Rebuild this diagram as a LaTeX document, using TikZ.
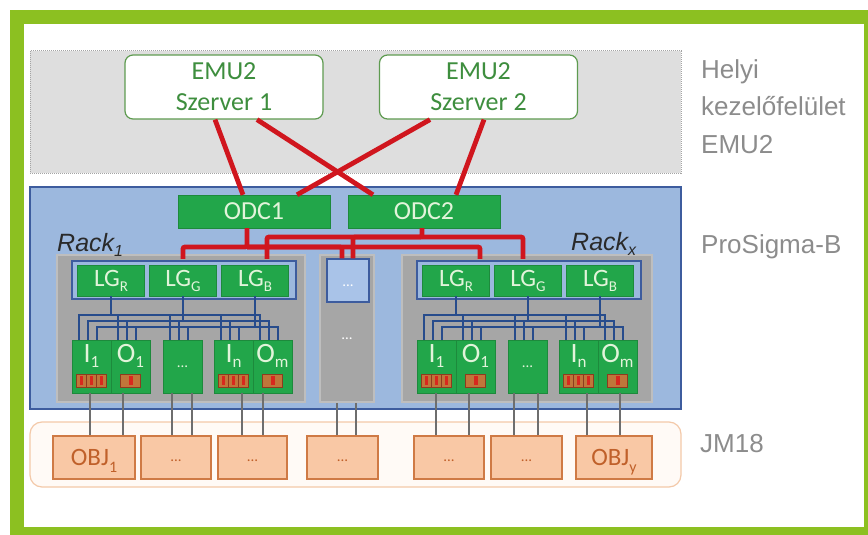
\documentclass[tikz,border=0pt]{standalone}
\usepackage{fontspec}
\setmainfont{Carlito}
\newfontfamily\arialf{Liberation Sans}
\usetikzlibrary{calc}

\definecolor{frameg}{HTML}{8CC021}
\definecolor{zonefill}{HTML}{DEDEDE}
\definecolor{zoneedge}{HTML}{A4A4A4}
\definecolor{srvedge}{HTML}{5E9B50}
\definecolor{srvtext}{HTML}{3E8E3E}
\definecolor{panelfill}{HTML}{9CB8DE}
\definecolor{paneledge}{HTML}{3D5C9E}
\definecolor{boxgreen}{HTML}{22A64A}
\definecolor{modedge}{HTML}{1D8A3C}
\definecolor{boxtext}{HTML}{E2F4DA}
\definecolor{redline}{HTML}{D0161E}
\definecolor{rackfill}{HTML}{A6A6A6}
\definecolor{rackedge}{HTML}{BEBEBE}
\definecolor{midfill}{HTML}{A9C3E8}
\definecolor{bluewire}{HTML}{274C8C}
\definecolor{graywire}{HTML}{6E6E6E}
\definecolor{objfill}{HTML}{F9C8A5}
\definecolor{objedge}{HTML}{CF7A45}
\definecolor{objtext}{HTML}{C0602A}
\definecolor{jmedge}{HTML}{F3C9A9}
\definecolor{jmfill}{HTML}{FFFAF6}
\definecolor{labgray}{HTML}{8C8C8C}
\definecolor{rackname}{HTML}{2A2A2A}
\definecolor{cellfill}{HTML}{C0763A}
\definecolor{celledge}{HTML}{8E3B1F}
\definecolor{cellred}{HTML}{D8281E}

% lowered small index
\newcommand\sbs[3][-5pt]{\raisebox{#1}{\fontsize{#2}{#2}\selectfont #3}}

\tikzset{
  srvbox/.style={draw=srvedge, fill=white, rounded corners=8pt, line width=1.2pt,
    minimum width=198pt, minimum height=64pt, align=center, text=srvtext,
    font=\fontsize{26}{31}\selectfont},
  odcbox/.style={draw=modedge, fill=boxgreen, minimum width=152pt, minimum height=33pt,
    inner sep=0pt, text=boxtext, font=\fontsize{26}{26}\selectfont},
  rackbox/.style={fill=rackfill, draw=rackedge, line width=1.5pt, inner sep=0pt,
    minimum height=147pt},
  lgframe/.style={fill=panelfill, draw=paneledge, line width=1.5pt, inner sep=0pt,
    minimum width=224pt, minimum height=38pt},
  lgbox/.style={fill=boxgreen, draw=modedge, minimum width=67pt, minimum height=31pt,
    inner sep=1pt, text=boxtext, font=\fontsize{25}{25}\selectfont},
  modbase/.style={draw=modedge, fill=boxgreen, minimum width=39pt, minimum height=53pt,
    inner sep=1pt, text=boxtext},
  modbox/.style={modbase, font=\fontsize{28}{28}\selectfont, text height=19pt, text depth=28pt},
  dotmod/.style={modbase, font=\fontsize{15}{15}\selectfont},
  objbox/.style={draw=objedge, fill=objfill, line width=1.2pt, minimum height=43pt,
    inner sep=0pt, text=objtext, font=\fontsize{25}{25}\selectfont,
    text height=15pt, text depth=0pt},
  objdots/.style={objbox, font=\fontsize{15}{15}\selectfont, text height=8pt},
  redl/.style={draw=redline, line width=4.8pt, rounded corners=2pt},
  bw/.style={draw=bluewire, line width=2.3pt},
  gl/.style={draw=graywire, line width=2.6pt},
  sidelab/.style={anchor=base west, text=labgray, inner sep=0pt,
    font=\arialf\fontsize{26}{26}\selectfont},
  racklab/.style={anchor=base west, text=rackname, inner sep=0pt,
    font=\arialf\itshape\fontsize{25}{25}\selectfont},
  icell/.pic={
    \filldraw[fill=cellfill, draw=celledge, line width=0.8pt] (-15,-6) rectangle (15,-19);
    \draw[celledge, line width=0.8pt] (-5,-6) -- (-5,-19) (5,-6) -- (5,-19);
    \fill[cellred] (-11.5,-8) rectangle (-8.5,-17);
    \fill[cellred] (-1.5,-8) rectangle (1.5,-17);
    \fill[cellred] (8.5,-8) rectangle (11.5,-17);
  },
  ocell/.pic={
    \filldraw[fill=cellfill, draw=celledge, line width=0.8pt] (-10,-6) rectangle (10,-19);
    \fill[cellred] (-2,-8) rectangle (2,-17);
  }
}

\begin{document}
\begin{tikzpicture}[x=1pt,y=-1pt]
\useasboundingbox (0,0) rectangle (868,535);

% page frame
\fill[white] (0,0) rectangle (868,535);
\fill[frameg] (10,10) rectangle (868,535);
\fill[white] (24,24) rectangle (864,527);

% layer zones
\node[draw=zoneedge, densely dotted, line width=1pt, fill=zonefill, inner sep=0pt,
  minimum width=651pt, minimum height=122pt] (emuzone) at (355.5,112) {};
\node[draw=paneledge, fill=panelfill, line width=1.5pt, inner sep=0pt,
  minimum width=651pt, minimum height=222pt] (panel) at (355.5,298) {};
\node[draw=jmedge, fill=jmfill, line width=1.2pt, rounded corners=12pt, inner sep=0pt,
  minimum width=651pt, minimum height=65pt] (jmzone) at (355.5,454.5) {};

% servers
\node[srvbox] (srv1) at (224,87) {EMU2\\Szerver 1};
\node[srvbox] (srv2) at (478.5,87) {EMU2\\Szerver 2};

% ODC units
\node[odcbox] (odc1) at (254,211.5) {ODC1};
\node[odcbox] (odc2) at (424,211.5) {ODC2};

% server to ODC links
\draw[redl] ([xshift=-9pt]srv1.south) -- ([xshift=-11pt]odc1.north);
\draw[redl] ([xshift=33pt]srv1.south) -- ([xshift=-51pt]odc2.north);
\draw[redl] ([xshift=-48.5pt]srv2.south) -- ([xshift=43pt]odc1.north);
\draw[redl] ([xshift=5.5pt]srv2.south) -- ([xshift=32pt]odc2.north);

% racks
\node[rackbox, minimum width=248pt] (rack1) at (181,328.5) {};
\node[rackbox, minimum width=54pt, text=white, font=\fontsize{15}{15}\selectfont,
  text height=22pt, text depth=0pt] (rackm) at (347,328.5) {...};
\node[rackbox, minimum width=250pt] (rackx) at (527,328.5) {};

\node[lgframe] (lgf1) at (184,280) {};
\node[lgframe] (lgfx) at (529,280) {};

\node[lgbox] (lr1) at (111,280.5) {LG\sbs{15}{R}};
\node[lgbox] (lg1) at (183,280.5) {LG\sbs{15}{G}};
\node[lgbox] (lb1) at (255,280.5) {LG\sbs{15}{B}};
\node[lgbox] (lrx) at (456,280.5) {LG\sbs{15}{R}};
\node[lgbox] (lgx) at (528,280.5) {LG\sbs{15}{G}};
\node[lgbox] (lbx) at (600,280.5) {LG\sbs{15}{B}};

\node[fill=midfill, draw=paneledge, line width=1.5pt, minimum width=42pt, minimum height=43pt,
  inner sep=0pt, text=white, font=\fontsize{15}{15}\selectfont, text height=12pt, text depth=0pt]
  (midsmall) at (348,280.5) {...};

% ODC distribution buses
\coordinate (busA) at (0,247);
\coordinate (busB) at (0,237);
\draw[redl] ([xshift=-7pt]odc1.south) -- ([xshift=-7pt]odc1.south |- busA) -| ([yshift=6pt]lg1.north);
\draw[redl] ([xshift=-7pt]odc1.south |- busA) -| ([xshift=-6pt]midsmall.north);
\draw[redl] ([xshift=-7pt]odc1.south |- busA) -| ([xshift=24pt,yshift=6pt]lrx.north);
\draw[redl] ([xshift=-2pt]odc2.south) -- ([xshift=-2pt]odc2.south |- busB) -| ([xshift=12pt,yshift=6pt]lb1.north);
\draw[redl] ([xshift=-2pt]odc2.south |- busB) -| ([xshift=5pt]midsmall.north);
\draw[redl] ([xshift=-2pt]odc2.south |- busB) -| ([xshift=-5pt,yshift=6pt]lgx.north);

% I/O modules
\node[modbox] (ma1) at (91.5,366.5) {I\sbs{17}{1}};
\node[modbox] (mb1) at (130.5,366.5) {O\sbs{17}{1}};
\node[dotmod] (mc1) at (182.5,366.5) {...};
\node[modbox] (md1) at (233.5,366.5) {I\sbs{17}{n}};
\node[modbox] (me1) at (272.5,366.5) {O\sbs{17}{m}};
\node[modbox] (max) at (436.5,366.5) {I\sbs{17}{1}};
\node[modbox] (mbx) at (475.5,366.5) {O\sbs{17}{1}};
\node[dotmod] (mcx) at (527.5,366.5) {...};
\node[modbox] (mdx) at (578.5,366.5) {I\sbs{17}{n}};
\node[modbox] (mex) at (617.5,366.5) {O\sbs{17}{m}};

% LG to module wiring
\foreach \r in {1,x}{
  \foreach \m in {a,b,c,d,e}{
    \draw[bw] (lr\r.south) |- ([xshift=7pt,yshift=25pt]m\m\r.north west) -- ([xshift=7pt]m\m\r.north west);
    \draw[bw] (lg\r.south) |- ([xshift=16pt,yshift=19pt]m\m\r.north west) -- ([xshift=16pt]m\m\r.north west);
    \draw[bw] (lb\r.south) |- ([xshift=25pt,yshift=13pt]m\m\r.north west) -- ([xshift=25pt]m\m\r.north west);
  }
}

% terminal blocks
\foreach \m in {ma1,md1,max,mdx} { \pic at (\m.south) {icell}; }
\foreach \m in {mb1,me1,mbx,mex} { \pic at (\m.south) {ocell}; }

% field objects
\node[objbox, minimum width=82pt] (o1) at (94,457.5) {OBJ\sbs[-7pt]{16}{1}};
\node[objdots, minimum width=70pt] (o2) at (176,457.5) {...};
\node[objdots, minimum width=69pt] (o3) at (252.5,457.5) {...};
\node[objdots, minimum width=71pt] (o4) at (342.5,457.5) {...};
\node[objdots, minimum width=70pt] (o5) at (449,457.5) {...};
\node[objdots, minimum width=71pt] (o6) at (526.5,457.5) {...};
\node[objbox, minimum width=76pt] (o7) at (614,457.5) {OBJ\sbs[-7pt]{16}{y}};

% module to object cabling
\foreach \m/\s/\o in {ma1/-1.5/o1, mb1/-7.5/o1, mc1/-10.5/o2, mc1/9.5/o2, md1/8.5/o3, me1/-9.5/o3,
    rackm/-10/o4, rackm/9/o4, max/-0.5/o5, mbx/-6.5/o5, mcx/-13.5/o6, mcx/10.5/o6, mdx/8.5/o7, mex/2.5/o7}{
  \draw[gl] ([xshift=\s pt]\m.south) -- ([xshift=\s pt]\m.south |- \o.north);
}

% rack names
\node[racklab] (rn1) at (57,251) {Rack\sbs{16}{1}};
\node[racklab] (rnx) at (571,250) {Rack\sbs{16}{x}};

% layer names
\node[sidelab] (hl1) at (701,78) {Helyi};
\node[sidelab] (hl2) at (701,116) {kezelőfelület};
\node[sidelab] (hl3) at (701,153) {EMU2};
\node[sidelab] (psb) at (701,253) {ProSigma-B};
\node[sidelab] (jm) at (700,452) {JM18};
\end{tikzpicture}
\end{document}
